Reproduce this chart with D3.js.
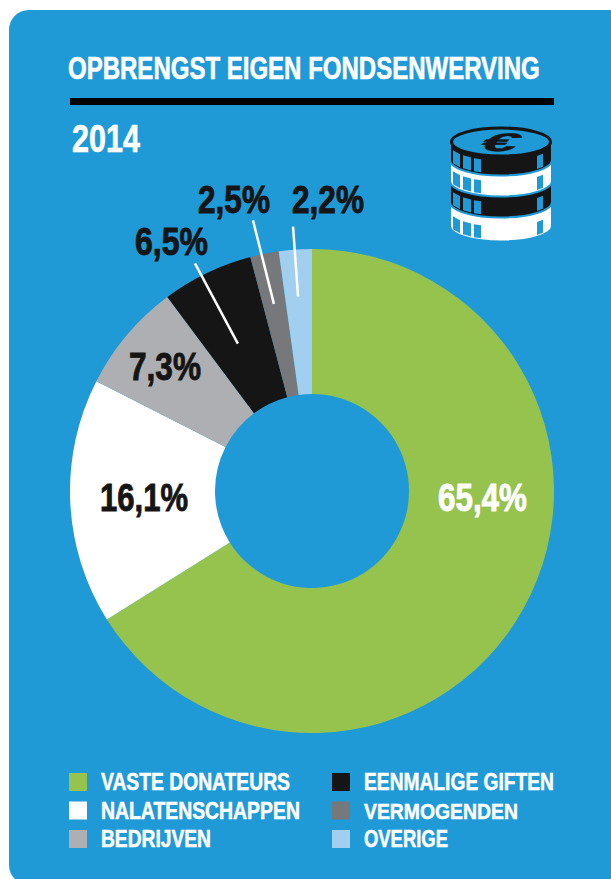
<!DOCTYPE html>
<html>
<head>
<meta charset="utf-8">
<script src="https://cdn.jsdelivr.net/npm/d3@7"></script>
<style>
  html, body { margin: 0; padding: 0; background: #fff; overflow: hidden; }
  svg { display: block; }
  text { font-family: "Liberation Sans", Roboto, sans-serif; font-weight: 700; }
</style>
</head>
<body>
<svg id="chart" width="611" height="879"></svg>
<script>
// data
const categories = ["VASTE DONATEURS", "NALATENSCHAPPEN", "BEDRIJVEN", "EENMALIGE GIFTEN", "VERMOGENDEN", "OVERIGE"];
const printedLabels = ["65,4%", "16,1%", "7,3%", "6,5%", "2,5%", "2,2%"];
// slice sizes as drawn in the picture (they differ a little from the printed labels)
const drawnShares = [66.1, 16.4, 7.3, 6.1, 1.9, 2.2];
const titleText = "OPBRENGST EIGEN FONDSENWERVING";
const yearText = "2014";

// styles and layout
const colors = ["#95c34e", "#ffffff", "#adafb2", "#151515", "#77787b", "#a1cfef"];
const labelColors = ["#ffffff", "#151515", "#151515", "#151515", "#151515", "#151515"];
const labelPos = [[438, 511, 89], [100, 511, 88], [129, 380, 72], [135, 255, 73], [198, 213, 72], [292, 213, 72]];
const legendWidths = [189, 199, 110, 190, 154, 84];
const blue = "#1f9ad6";
const cx = 312, cy = 491, outerR = 242, innerR = 97;

const svg = d3.select("#chart");

// the font has no condensed cut, so squeeze each text to its width
function placeText(sel, x, y, width) {
  sel.attr("transform", function() {
    const k = width / this.getComputedTextLength();
    return `translate(${x},${y}) scale(${k},1)`;
  });
}

svg.append("rect")
  .attr("x", 9).attr("y", 10)
  .attr("width", 640).attr("height", 875)
  .attr("rx", 20)
  .attr("fill", blue);

// title
svg.append("text")
  .attr("font-size", 31)
  .attr("fill", "#fff")
  .attr("stroke", "#fff")
  .attr("stroke-width", 0.6)
  .text(titleText)
  .call(placeText, 68, 79, 472);

svg.append("rect")
  .attr("x", 70).attr("y", 98)
  .attr("width", 484).attr("height", 7)
  .attr("fill", "#000");

svg.append("text")
  .attr("font-size", 39)
  .attr("fill", "#fff")
  .attr("stroke", "#fff")
  .attr("stroke-width", 0.6)
  .text(yearText)
  .call(placeText, 72, 152, 68);

// donut
const pie = d3.pie().sort(null).value(d => d)(drawnShares);
const arc = d3.arc().innerRadius(innerR).outerRadius(outerR);
const donut = svg.append("g").attr("transform", `translate(${cx},${cy})`);

donut.selectAll("path")
  .data(pie)
  .enter()
  .append("path")
  .attr("d", arc)
  .attr("fill", (d, i) => colors[i]);

// leader lines, [angle in degrees left of top, radius] for both ends
const leaders = [
  [[26.7, 165], [27.2, 256]],
  [[11.5, 191], [12.3, 277]],
  [[4.1, 195], [4.1, 265]]
];
const polar = p => d3.pointRadial(-p[0] * Math.PI / 180, p[1]);
donut.selectAll("line")
  .data(leaders)
  .enter()
  .append("line")
  .attr("x1", d => polar(d[0])[0])
  .attr("y1", d => polar(d[0])[1])
  .attr("x2", d => polar(d[1])[0])
  .attr("y2", d => polar(d[1])[1])
  .attr("stroke", "#fff")
  .attr("stroke-width", 2.5);

// percent labels
svg.selectAll("text.pct")
  .data(printedLabels)
  .enter()
  .append("text")
  .attr("class", "pct")
  .attr("font-size", 38)
  .attr("fill", (d, i) => labelColors[i])
  .attr("stroke", (d, i) => labelColors[i])
  .attr("stroke-width", 0.9)
  .text(d => d)
  .each(function(d, i) {
    d3.select(this).call(placeText, labelPos[i][0], labelPos[i][1], labelPos[i][2]);
  });

// legend, filled per column
const legendX = d3.scaleBand().domain([0, 1]).range([69, 69 + 263 * 2]);
const legendY = d3.scaleBand().domain([0, 1, 2]).range([773, 773 + 28.5 * 3]);
const legend = svg.selectAll("g.legend")
  .data(categories)
  .enter()
  .append("g")
  .attr("class", "legend")
  .attr("transform", (d, i) => `translate(${legendX(Math.floor(i / 3))},${legendY(i % 3)})`);

legend.append("rect")
  .attr("width", 18).attr("height", 18)
  .attr("fill", (d, i) => colors[i]);

legend.append("text")
  .attr("font-size", 23)
  .attr("fill", "#fff")
  .attr("stroke", "#fff")
  .attr("stroke-width", 0.5)
  .text(d => d)
  .each(function(d, i) {
    d3.select(this).call(placeText, 32, 17, legendWidths[i]);
  });

// coin stack icon
const coinX = 501, coinRx = 51, coinRy = 15.5, coinH = 18;
const coinTops = [208, 184, 163, 142];
const coinFills = ["#fff", "#151515", "#fff", "#151515"];
const notches = [[-48, -41], [-38, -30], [-27, -20], [36, 42]];
const icon = svg.append("g");

function lowerEdge(dx) {
  return coinRy * Math.sqrt(1 - (dx * dx) / (coinRx * coinRx));
}

function notchPath(n, top) {
  const y0 = d => top + lowerEdge(d) + 3;
  const y1 = d => top + lowerEdge(d) + coinH - 2;
  return d3.line()([
    [coinX + n[0], y0(n[0])], [coinX + n[1], y0(n[1])],
    [coinX + n[1], y1(n[1])], [coinX + n[0], y1(n[0])]
  ]) + "Z";
}

coinTops.forEach((top, i) => {
  const l = coinX - coinRx, r = coinX + coinRx;
  icon.append("path")
    .attr("d", `M${l},${top}L${l},${top + coinH}A${coinRx},${coinRy} 0 0 0 ${r},${top + coinH}L${r},${top}A${coinRx},${coinRy} 0 0 0 ${l},${top}Z`)
    .attr("fill", coinFills[i])
    .attr("stroke", blue)
    .attr("stroke-width", 2);
  notches.forEach(n => {
    icon.append("path").attr("d", notchPath(n, top)).attr("fill", blue);
  });
});

icon.append("ellipse")
  .attr("cx", coinX).attr("cy", coinTops[3])
  .attr("rx", coinRx - 1.5).attr("ry", coinRy - 1.5)
  .attr("fill", blue)
  .attr("stroke", "#151515")
  .attr("stroke-width", 3);

icon.append("text")
  .attr("transform", `translate(${coinX - 6},${coinTops[3] + 9}) skewX(-35) scale(2.2,0.85)`)
  .attr("text-anchor", "middle")
  .attr("font-size", 30)
  .attr("fill", "#151515")
  .attr("stroke", "#151515")
  .attr("stroke-width", 0.4)
  .text("€");
</script>
</body>
</html>
